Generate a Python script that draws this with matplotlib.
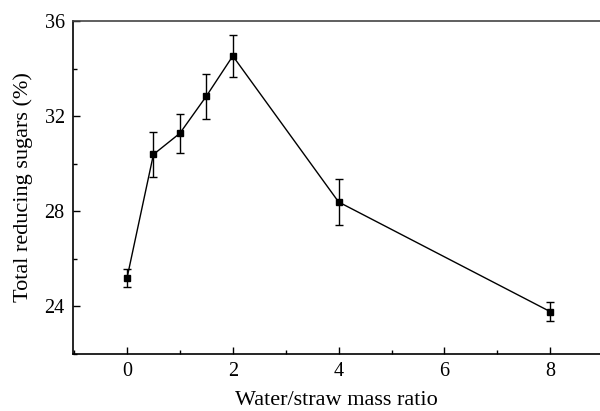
import matplotlib
matplotlib.use("Agg")
import matplotlib.pyplot as plt
from matplotlib.ticker import MultipleLocator

plt.rcParams['font.family'] = ['Liberation Serif', 'DejaVu Serif']

ratio = [0, 0.5, 1, 1.5, 2, 4, 8]
sugars = [25.19, 30.39, 31.28, 32.84, 34.53, 28.39, 23.78]
err = [0.37, 0.93, 0.83, 0.95, 0.89, 0.97, 0.40]

fig = plt.figure(figsize=(6, 4.11), dpi=100)
ax = fig.add_axes([0.1217, 0.1387, 0.8783, 0.8102])

ax.errorbar(ratio, sugars, yerr=err, color='black', lw=1.0, marker='s',
            markersize=4, capsize=3.2, elinewidth=1.0, capthick=1.0)

ax.set_xlim(-1.02, 8.94)
ax.set_ylim(22, 36)
ax.xaxis.set_major_locator(MultipleLocator(2))
ax.xaxis.set_minor_locator(MultipleLocator(1))
ax.yaxis.set_major_locator(MultipleLocator(4))
ax.yaxis.set_minor_locator(MultipleLocator(2))
ax.tick_params(which='both', direction='in', labelsize=14.5, width=1.0, pad=6)
ax.tick_params(which='major', length=5)
ax.tick_params(which='minor', length=3)
ax.spines['right'].set_visible(False)
for s in ['left', 'bottom', 'top']:
    ax.spines[s].set_linewidth(1.2)
ax.spines['top'].set_color('#444444')

ax.set_xlabel('Water/straw mass ratio', fontsize=16, labelpad=7)
ax.set_ylabel('Total reducing sugars (%)', fontsize=16, labelpad=8)

fig.savefig('out.png', dpi=100)
